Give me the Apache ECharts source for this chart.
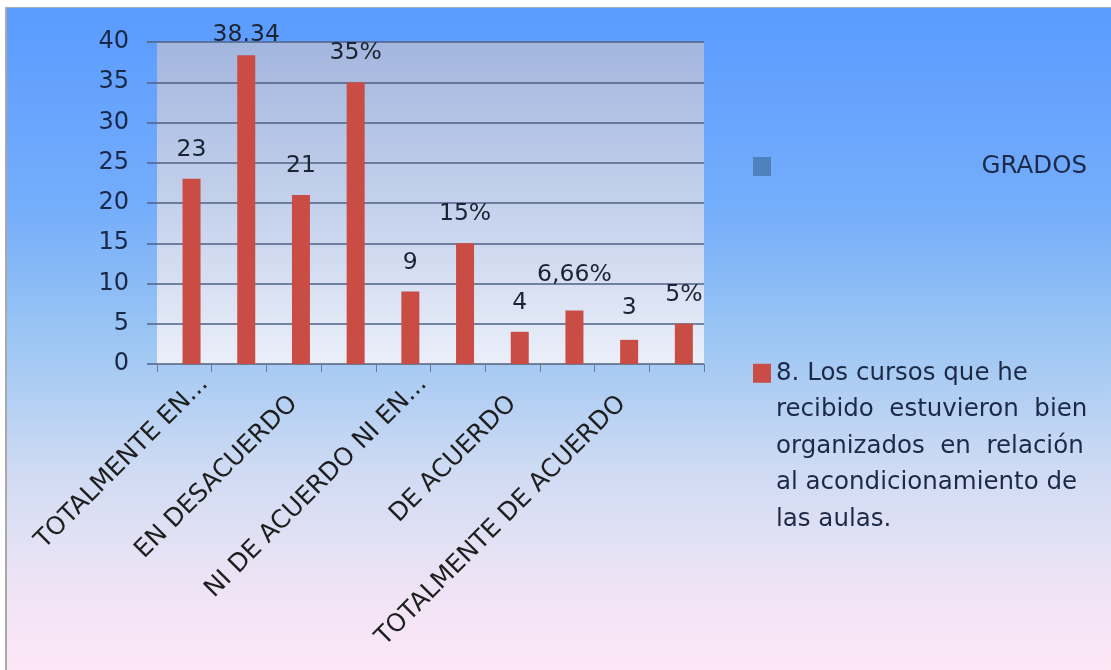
<!DOCTYPE html>
<html><head><meta charset="utf-8">
<script src="https://cdn.jsdelivr.net/npm/echarts@6/dist/echarts.min.js"></script>
<style>
html,body{margin:0;padding:0;background:#fff;width:1111px;height:670px;overflow:hidden;}
#frame{position:absolute;left:5px;top:7px;width:1106px;height:663px;border-left:2px solid #a9a9a9;border-top:1px solid #9fb0bf;box-sizing:border-box;}
#chart{width:1104px;height:662px;}
</style></head><body><div id="frame"><div id="chart"></div></div>
<script>
const categories = ['TOTALMENTE EN...', '', 'EN DESACUERDO', '', 'NI DE ACUERDO NI EN...', '', 'DE ACUERDO', '', 'TOTALMENTE DE ACUERDO', ''];
const gradosValues = ['-', '-', '-', '-', '-', '-', '-', '-', '-', '-'];
const cursosValues = [23, 38.34, 21, 35, 9, 15, 4, 6.66, 3, 5];
const cursosLabels = ['23', '38.34', '21', '35%', '9', '15%', '4', '6,66%', '3', '5%'];
const yMin = 0, yMax = 40, yStep = 5;
const seriesNames = ['GRADOS', '8. Los cursos que he recibido estuvieron bien organizados en relación al acondicionamiento de las aulas.'];
const legendLines = ['8. Los cursos que he', 'recibido  estuvieron  bien', 'organizados  en  relación', 'al acondicionamiento de', 'las aulas.'];

const FONT = 'DejaVu Sans';
const labelNudge = {1: 8, 7: 23, 8: 20};
const chart = echarts.init(document.getElementById('chart'), null, {renderer: 'canvas'});
chart.setOption({
  animation: false,
  backgroundColor: {type: 'linear', x: 0, y: 0, x2: 0, y2: 1, colorStops: [
    {offset: 0, color: '#5a9bff'},
    {offset: 0.3, color: '#74adfb'},
    {offset: 0.5, color: '#9cc6f3'},
    {offset: 0.7, color: '#cfdbf3'},
    {offset: 0.85, color: '#ebe3f5'},
    {offset: 1, color: '#fde6f6'}
  ]},
  textStyle: {fontFamily: FONT},
  grid: {left: 150, top: 34, width: 547, height: 322, show: true, borderWidth: 0,
    backgroundColor: {type: 'linear', x: 0, y: 0, x2: 0, y2: 1, colorStops: [
      {offset: 0, color: '#a3b6de'},
      {offset: 0.5, color: '#c4d1ec'},
      {offset: 1, color: '#eaeff9'}
    ]}},
  legend: [
    {data: [seriesNames[0]], orient: 'vertical', left: 746, top: 146, padding: 0,
      itemWidth: 18, itemHeight: 19, icon: 'rect',
      formatter: () => '{r|GRADOS}',
      textStyle: {fontFamily: FONT, fontSize: 24.5, color: '#1c2a48', width: 311,
        rich: {r: {align: 'right', fontFamily: FONT, fontSize: 24.5, color: '#1c2a48'}}}},
    {data: [seriesNames[1]], orient: 'vertical', left: 746, top: 201, padding: 0,
      itemWidth: 18, itemHeight: 19, icon: 'rect',
      formatter: () => ['', '', '', ''].concat(legendLines).join('\n'),
      textStyle: {fontFamily: FONT, fontSize: 24.5, color: '#1c2a48', lineHeight: 36.5}}
  ],
  xAxis: {
    type: 'category', data: categories, boundaryGap: true,
    axisLine: {show: true, lineStyle: {color: '#6d7b91', width: 1}},
    axisTick: {show: true, interval: 0, length: 8, lineStyle: {color: '#6d7b91'}},
    axisLabel: {interval: 0, rotate: 45, margin: 36, fontFamily: FONT, fontSize: 25, color: '#1e1e1e',
      formatter: v => v.endsWith('...') ? '{t|' + v + '}' : v,
      rich: {t: {fontFamily: FONT, fontSize: 25, color: '#1e1e1e', padding: [0, -28, 0, 0]}}}
  },
  yAxis: {
    type: 'value', min: yMin, max: yMax, interval: yStep,
    axisLine: {show: false},
    axisTick: {show: true, length: 10, lineStyle: {color: '#4f6086', width: 1.5}},
    splitLine: {show: true, lineStyle: {color: '#4f6086', width: 1.5}},
    axisLabel: {margin: 28, fontFamily: FONT, fontSize: 24, color: '#1a2848'}
  },
  series: [
    {name: seriesNames[0], type: 'bar', data: gradosValues, barWidth: 18, barGap: '-20%',
      itemStyle: {color: '#4f81bd'}},
    {name: seriesNames[1], type: 'bar', barWidth: 18, barGap: '-20%',
      itemStyle: {color: '#c94c45'},
      data: cursosValues.map((v, i) => ({value: v, label: {distance: labelNudge[i] != null ? labelNudge[i] : 17}})),
      label: {show: true, position: 'top', fontFamily: FONT, fontSize: 23.5, color: '#1c2333',
        formatter: p => cursosLabels[p.dataIndex]}}
  ]
});
</script></body></html>
